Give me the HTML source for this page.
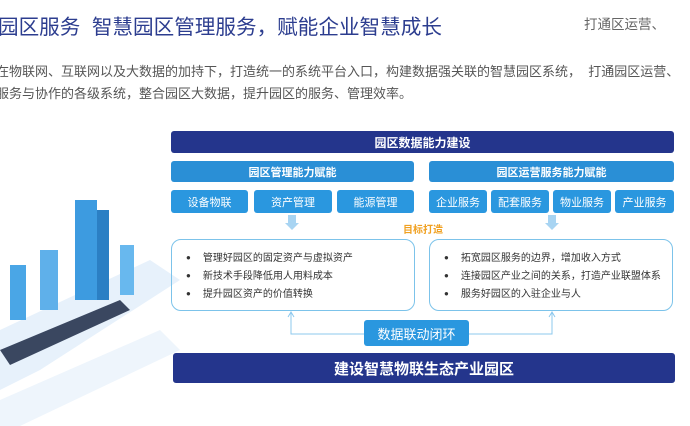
<!DOCTYPE html>
<html><head><meta charset="utf-8"><style>
body{margin:0;width:690px;height:426px;background:#fff;position:relative;overflow:hidden;font-family:"Liberation Sans","Noto Sans CJK SC",sans-serif}
.a{position:absolute;box-sizing:border-box;display:flex;align-items:center;justify-content:center;white-space:nowrap}
.dk{background:#24358c;color:#fff;font-weight:bold;border-radius:3px}
.md{background:#2a8fd6;color:#fff;font-weight:bold;border-radius:3px;font-size:11px}
.bt{background:#2a97df;color:#fff;border-radius:3px;font-size:11px}
.bx{border:1px solid #7cc3ea;border-radius:10px;display:block;padding:10px 0 0 16px;font-size:10px;color:#333;line-height:18px}
.bx div:before{content:"●";font-size:8px;margin-right:12px;color:#333;position:relative;top:-1px}
</style></head><body>
<div style="position:absolute;left:-2px;top:10px;font-size:20.6px;color:#2c3d8f;white-space:nowrap">园区服务&nbsp;&nbsp;智慧园区管理服务，赋能企业智慧成长</div>
<div style="position:absolute;left:584px;top:13px;font-size:13.5px;color:#666;white-space:nowrap">打通区运营、</div>
<div style="position:absolute;left:-4px;top:61px;font-size:13px;color:#555;white-space:nowrap;line-height:22px">在物联网、互联网以及大数据的加持下，打造统一的系统平台入口，构建数据强关联的智慧园区系统，&nbsp;&nbsp;打通园区运营、<br>服务与协作的各级系统，整合园区大数据，提升园区的服务、管理效率。</div>
<svg style="position:absolute;left:0;top:150px" width="180" height="276">
<polygon points="0,180 150,110 180,130 40,220 0,240" fill="#e7f1fb"/>
<polygon points="0,200 120,150 130,160 10,215" fill="#3a4760"/>
<rect x="75" y="50" width="22" height="100" fill="#3d9be0"/>
<rect x="97" y="60" width="12" height="90" fill="#2b7fc4"/>
<rect x="40" y="100" width="18" height="60" fill="#5fb0ea"/>
<rect x="10" y="115" width="16" height="55" fill="#4aa6e6"/>
<rect x="120" y="95" width="14" height="50" fill="#68b8ee"/>
<polygon points="0,250 160,180 180,200 20,276 0,276" fill="#eef5fc"/>
</svg>
<div class="a dk" style="left:171px;top:131px;width:503px;height:22px;font-size:12px">园区数据能力建设</div>
<div class="a md" style="left:171px;top:161px;width:243px;height:21px">园区管理能力赋能</div>
<div class="a md" style="left:429px;top:161px;width:245px;height:21px">园区运营服务能力赋能</div>
<div class="a bt" style="left:171px;top:190px;width:77px;height:23px">设备物联</div>
<div class="a bt" style="left:254px;top:190px;width:78px;height:23px">资产管理</div>
<div class="a bt" style="left:337px;top:190px;width:77px;height:23px">能源管理</div>
<div class="a bt" style="left:429px;top:190px;width:58px;height:23px">企业服务</div>
<div class="a bt" style="left:491px;top:190px;width:58px;height:23px">配套服务</div>
<div class="a bt" style="left:553px;top:190px;width:58px;height:23px">物业服务</div>
<div class="a bt" style="left:615px;top:190px;width:59px;height:23px">产业服务</div>
<div style="position:absolute;left:288px;top:215px;width:8px;height:8px;background:#a8d4f2"></div>
<div style="position:absolute;left:285px;top:223px;border:7px solid transparent;border-top:7px solid #a8d4f2;border-bottom:0"></div>
<div style="position:absolute;left:548px;top:215px;width:8px;height:8px;background:#a8d4f2"></div>
<div style="position:absolute;left:545px;top:223px;border:7px solid transparent;border-top:7px solid #a8d4f2;border-bottom:0"></div>
<div style="position:absolute;left:403px;top:221px;font-size:10px;font-weight:bold;color:#f0a020">目标打造</div>
<div class="a bx" style="left:171px;top:239px;width:244px;height:72px;padding-left:14px"><div>管理好园区的固定资产与虚拟资产</div><div>新技术手段降低用人用料成本</div><div>提升园区资产的价值转换</div></div>
<div class="a bx" style="left:429px;top:239px;width:244px;height:72px;padding-left:14px"><div>拓宽园区服务的边界，增加收入方式</div><div>连接园区产业之间的关系，打造产业联盟体系</div><div>服务好园区的入驻企业与人</div></div>
<svg style="position:absolute;left:0;top:0" width="690" height="426"><path d="M291,313 V334 H365 M469,334 H552 V313" fill="none" stroke="#8cc8ee" stroke-width="1"/><path d="M288,317 L291,312 L294,317 M549,317 L552,312 L555,317" fill="none" stroke="#8cc8ee"/></svg>
<div class="a" style="left:364px;top:320px;width:105px;height:26px;background:#2a97df;color:#fff;font-size:13px;border-radius:3px">数据联动闭环</div>
<div class="a dk" style="left:173px;top:353px;width:502px;height:30px;font-size:15px">建设智慧物联生态产业园区</div>
</body></html>
